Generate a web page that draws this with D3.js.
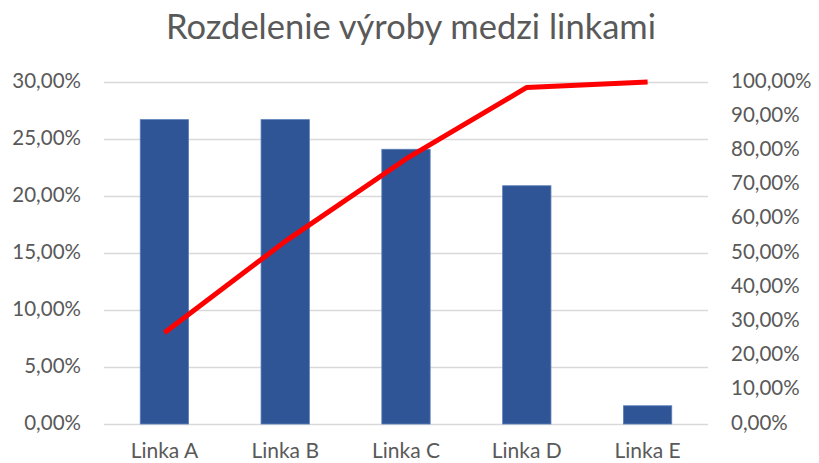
<!DOCTYPE html>
<html>
<head>
<meta charset="utf-8">
<script src="https://cdn.jsdelivr.net/npm/d3@7"></script>
<style>
  body { margin: 0; background: #fff; }
  text { font-family: Lato, "Open Sans", sans-serif; fill: #595959; }
</style>
</head>
<body>
<div id="chart"></div>
<script>
// data
const categories = ['Linka A', 'Linka B', 'Linka C', 'Linka D', 'Linka E'];
const shares = [0.267, 0.267, 0.241, 0.209, 0.016];
const cumulative = [0.267, 0.534, 0.775, 0.984, 1.0];
const leftTicks = [0, 0.05, 0.10, 0.15, 0.20, 0.25, 0.30];
const rightTicks = [0, 0.1, 0.2, 0.3, 0.4, 0.5, 0.6, 0.7, 0.8, 0.9, 1.0];

const width = 819, height = 463;
const margin = { top: 82, left: 104, right: 111, bottom: 39 };
const chartWidth = width - margin.left - margin.right;
const chartHeight = height - margin.top - margin.bottom;

const svg = d3.select('#chart').append('svg')
  .attr('width', width)
  .attr('height', height);

const chartLayer = svg.append('g')
  .attr('transform', 'translate(' + [margin.left, margin.top] + ')');

const x = d3.scaleBand().domain(categories).range([0, chartWidth]).paddingInner(0.6).paddingOuter(0.3);
const yLeft = d3.scaleLinear().domain([0, 0.30]).range([chartHeight, 0]);
const yRight = d3.scaleLinear().domain([0, 1.0]).range([chartHeight, 0]);

const fmt = v => d3.format('.2f')(v * 100).replace('.', ',') + '%';

// gridlines
chartLayer.append('g')
  .selectAll('line')
  .data(leftTicks)
  .enter().append('line')
  .attr('x1', 0)
  .attr('x2', chartWidth)
  .attr('y1', d => Math.round(yLeft(d)) + 0.5)
  .attr('y2', d => Math.round(yLeft(d)) + 0.5)
  .attr('stroke', '#d9d9d9')
  .attr('stroke-width', 1.3);

// left axis
const leftAxis = chartLayer.append('g')
  .call(d3.axisLeft(yLeft).tickValues(leftTicks).tickFormat(fmt).tickSize(0).tickPadding(23));
leftAxis.select('.domain').remove();
leftAxis.selectAll('text').style('font-size', '20.5px').attr('dy', '0.25em');

// right axis
const rightAxis = chartLayer.append('g')
  .attr('transform', 'translate(' + chartWidth + ',0)')
  .call(d3.axisRight(yRight).tickValues(rightTicks).tickFormat(fmt).tickSize(0).tickPadding(23));
rightAxis.select('.domain').remove();
rightAxis.selectAll('text').style('font-size', '20.5px').attr('dy', '0.25em');

// category axis
const bottomAxis = chartLayer.append('g')
  .attr('transform', 'translate(0,' + chartHeight + ')')
  .call(d3.axisBottom(x).tickSize(0).tickPadding(19));
bottomAxis.select('.domain').remove();
bottomAxis.selectAll('text').style('font-size', '21px');

// bars
chartLayer.append('g')
  .selectAll('rect')
  .data(shares)
  .enter().append('rect')
  .attr('x', (d, i) => x(categories[i]))
  .attr('y', d => yLeft(d))
  .attr('width', x.bandwidth())
  .attr('height', d => chartHeight - yLeft(d))
  .attr('fill', '#2f5597')
  .attr('stroke', '#5b7fb8')
  .attr('stroke-width', 0.8);

// cumulative line
const line = d3.line()
  .x((d, i) => x(categories[i]) + x.bandwidth() / 2)
  .y(d => yRight(d));

chartLayer.append('path')
  .datum(cumulative)
  .attr('d', line)
  .attr('fill', 'none')
  .attr('stroke', '#ff0000')
  .attr('stroke-width', 5)
  .attr('stroke-linejoin', 'round');

// title
svg.append('text')
  .attr('x', 411)
  .attr('y', 39)
  .attr('text-anchor', 'middle')
  .style('font-size', '34.5px')
  .text('Rozdelenie výroby medzi linkami');
</script>
</body>
</html>
